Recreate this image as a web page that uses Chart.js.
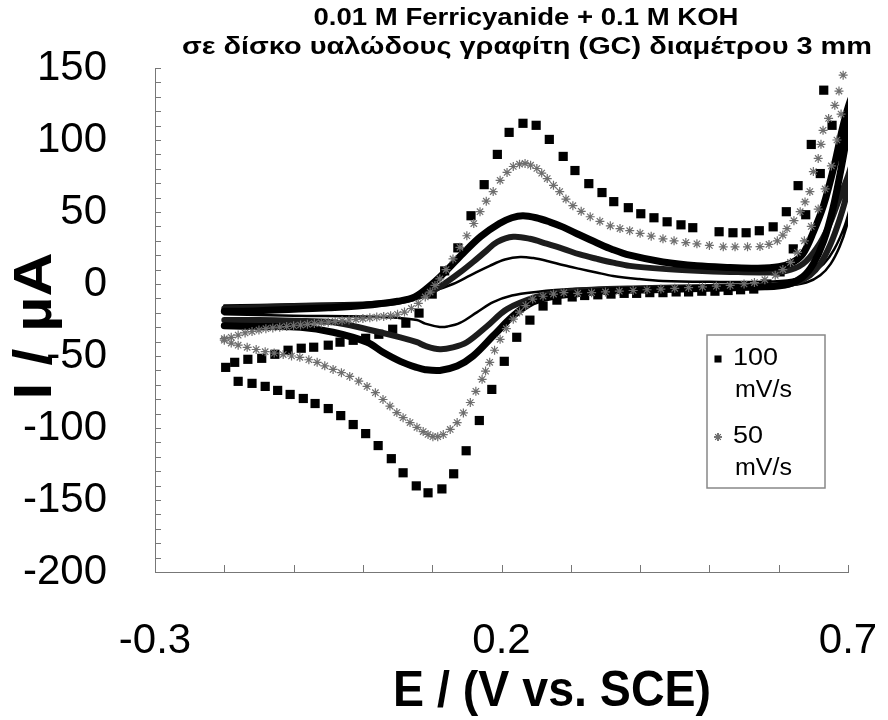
<!DOCTYPE html>
<html>
<head>
<meta charset="utf-8">
<script src="https://cdn.jsdelivr.net/npm/chart.js@4.4.1/dist/chart.umd.min.js"></script>
<style>
  html, body { margin: 0; padding: 0; background: #fff; }
  #wrap { position: relative; width: 888px; height: 720px; }
</style>
</head>
<body>
<div id="wrap"><canvas id="cv" width="888" height="720"></canvas></div>
<script>
const titleLines = ['0.01 M Ferricyanide + 0.1 M KOH', 'σε δίσκο υαλώδους γραφίτη (GC) διαμέτρου 3 mm'];
const xTitle = 'E / (V vs. SCE)';
const yTitle = 'I / µA';
const xLabelled = [-0.3, 0.2, 0.7];
const legendRows = [['100', 'mV/s'], ['50', 'mV/s']];

// 100 mV/s (squares): forward scan then return scan
const e100 = [-0.198, -0.185, -0.166, -0.146, -0.127, -0.108, -0.089, -0.071, -0.050, -0.033, -0.014, 0.004, 0.023, 0.043, 0.062, 0.081, 0.100, 0.118, 0.137, 0.156, 0.175, 0.194, 0.211, 0.231, 0.250, 0.269, 0.289, 0.306, 0.326, 0.345, 0.362, 0.383, 0.401, 0.420, 0.439, 0.459, 0.476, 0.514, 0.534, 0.553, 0.572, 0.592, 0.611, 0.628, 0.647, 0.665,
  0.677, 0.660, 0.639, 0.621, 0.602, 0.583, 0.564, 0.545, 0.527, 0.508, 0.489, 0.470, 0.452, 0.433, 0.414, 0.395, 0.377, 0.358, 0.339, 0.320, 0.302, 0.280, 0.260, 0.241, 0.222, 0.204, 0.186, 0.168, 0.149, 0.131, 0.114, 0.094, 0.077, 0.058, 0.041, 0.022, 0.004, -0.014, -0.032, -0.050, -0.069, -0.086, -0.105, -0.123, -0.141, -0.160, -0.180];
const i100 = [-57.9, -54.4, -52.3, -51.6, -48.8, -46.0, -44.6, -43.9, -42.5, -40.4, -39.1, -37.7, -34.9, -31.4, -27.2, -20.2, -7.0, 9.1, 25.1, 47.4, 69.0, 90.0, 105.3, 111.6, 110.2, 100.4, 88.6, 78.8, 69.7, 63.5, 57.2, 53.0, 48.8, 46.0, 43.2, 41.1, 39.1, 36.3, 35.6, 35.6, 37.0, 39.7, 50.2, 68.3, 96.9, 134.6,
  110.2, 76.7, 48.1, 24.4, 8.4, 0, -3.5, -4, -4.5, -5, -5, -5.5, -5.5, -6, -6, -6.5, -6.5, -7, -7.5, -8, -9, -11.2, -15.3, -25.1, -37.0, -53.7, -73.2, -94.8, -115.8, -131.8, -142.3, -145.0, -140.2, -131.1, -121.3, -112.2, -103.9, -97.6, -91.4, -86.5, -83.0, -79.5, -76.7, -73.9, -71.1, -69.0, -67.6];

// 50 mV/s (stars)
const e50 = [-0.200, -0.190, -0.180, -0.170, -0.160, -0.150, -0.140, -0.130, -0.120, -0.110, -0.100, -0.090, -0.080, -0.070, -0.060, -0.050, -0.040, -0.030, -0.020, -0.010, 0.000, 0.010, 0.020, 0.030, 0.040, 0.050, 0.060, 0.070, 0.080, 0.090, 0.097, 0.104, 0.111, 0.120, 0.130, 0.140, 0.150, 0.160, 0.169, 0.178, 0.188, 0.198, 0.208, 0.217, 0.226, 0.234, 0.242, 0.251, 0.258, 0.266, 0.275, 0.284, 0.293, 0.303, 0.315, 0.328, 0.342, 0.357, 0.371, 0.385, 0.400, 0.416, 0.433, 0.449, 0.466, 0.482, 0.500, 0.520, 0.537, 0.555, 0.573, 0.586, 0.598, 0.606, 0.612, 0.622, 0.631, 0.638, 0.645, 0.650, 0.657, 0.661, 0.664, 0.672, 0.681, 0.687, 0.693,
  0.690, 0.684, 0.676, 0.667, 0.657, 0.647, 0.637, 0.627, 0.617, 0.606, 0.595, 0.580, 0.565, 0.550, 0.530, 0.510, 0.490, 0.470, 0.450, 0.430, 0.410, 0.390, 0.370, 0.350, 0.330, 0.310, 0.290, 0.275, 0.260, 0.245, 0.235, 0.226, 0.217, 0.207, 0.198, 0.190, 0.183, 0.177, 0.172, 0.163, 0.155, 0.145, 0.136, 0.126, 0.116, 0.108, 0.101, 0.094, 0.087, 0.078, 0.068, 0.058, 0.049, 0.039, 0.029, 0.018, 0.006, -0.006, -0.019, -0.031, -0.043, -0.055, -0.066, -0.078, -0.091, -0.103, -0.115, -0.128, -0.141, -0.154, -0.167, -0.180, -0.190, -0.200];
const i50 = [-38, -37, -35.5, -34, -33, -32, -31, -30.5, -30, -29.5, -29, -28.5, -28, -27.5, -27, -26.5, -26, -25.5, -25, -24.5, -24, -23.5, -23, -22.5, -22, -21, -19.5, -17, -13.5, -9, -5.6, -1, 3.5, 10, 17.4, 25.5, 33.5, 42, 50.2, 57.5, 64.2, 72, 77.5, 81.6, 83.2, 83.7, 82.5, 80.2, 77, 73.2, 68.5, 64.2, 59, 54.4, 50.5, 46.7, 43.5, 40.4, 38.5, 37, 35.2, 33.2, 31.4, 30, 28.8, 27.9, 26.8, 25.8, 25.8, 25.8, 26, 27.5, 30, 34, 38.4, 44, 50.2, 57, 64.2, 78.1, 87.2, 97, 106.7, 115, 124.1, 134, 145,
  118, 100, 82, 66, 52, 40, 30, 22, 15, 10, 6, 3, 1, 0, -1, -1.5, -2, -2.5, -3, -3.5, -4, -4.5, -5, -5.5, -6, -6.5, -6, -7, -8.5, -10.5, -15, -19.5, -24.4, -31, -38.4, -46, -54.4, -60.5, -66.2, -74.5, -82.3, -89.5, -96.2, -101, -104.6, -106, -106, -104.5, -102.5, -99.5, -96.2, -92.8, -89.3, -84.8, -80.2, -75.5, -71.1, -67.5, -64.2, -61.6, -59.3, -56.8, -54.4, -52.6, -50.9, -50, -49, -48, -47, -45.5, -44, -42.5, -41, -39];

// 20 mV/s (thick line)
const e20 = [-0.200, -0.150, -0.100, -0.050, 0.000, 0.050, 0.075, 0.100, 0.120, 0.144, 0.170, 0.197, 0.215, 0.231, 0.250, 0.270, 0.289, 0.313, 0.338, 0.360, 0.385, 0.433, 0.482, 0.530, 0.570, 0.600, 0.620, 0.635, 0.650, 0.665, 0.680, 0.694, 0.705,
  0.700, 0.690, 0.678, 0.665, 0.650, 0.635, 0.615, 0.580, 0.500, 0.420, 0.350, 0.300, 0.270, 0.245, 0.217, 0.188, 0.159, 0.136, 0.111, 0.090, 0.078, 0.054, 0.029, 0.006, -0.043, -0.090, -0.150, -0.200];
const i20 = [-19, -18.5, -17.5, -16.5, -15, -12, -9, 0, 9, 21, 33, 42, 46, 47.4, 46, 43, 39.5, 34, 28.5, 24, 20, 15.3, 12.6, 11.5, 11, 12, 15, 21, 36, 55, 82, 112, 129,
  108, 80, 52, 30, 14, 5, 0, -2, -3, -4, -5, -7, -9, -12.6, -22, -36, -50, -57, -60, -59.5, -58, -53.7, -47.4, -40.4, -33.5, -30, -29.5, -29];

// 10 mV/s (medium line)
const e10 = [-0.200, -0.100, 0.000, 0.050, 0.080, 0.100, 0.120, 0.140, 0.159, 0.178, 0.194, 0.217, 0.241, 0.265, 0.289, 0.313, 0.338, 0.361, 0.385, 0.433, 0.482, 0.530, 0.580, 0.610, 0.635, 0.655, 0.672, 0.688, 0.700, 0.705,
  0.698, 0.688, 0.675, 0.660, 0.645, 0.625, 0.600, 0.500, 0.400, 0.330, 0.280, 0.250, 0.208, 0.179, 0.150, 0.130, 0.111, 0.090, 0.078, 0.054, 0.006, -0.043, -0.100, -0.150, -0.200];
const i10 = [-17, -15.5, -14.5, -12.5, -9, -5, 1, 8, 15.3, 23, 29.3, 32.8, 31.4, 28, 24.4, 20.5, 17.4, 14.8, 12.6, 10.5, 9.2, 8.4, 8, 9, 14, 25, 40, 60, 75, 82,
  62, 45, 28, 14, 6, 1, -1, -2, -3, -4, -6, -9, -17.4, -29.3, -40.4, -44, -45.3, -43, -40.4, -37, -31.4, -26.5, -25.5, -25, -25];

// 5 mV/s (thin line)
const e5 = [-0.200, -0.100, 0.000, 0.050, 0.100, 0.130, 0.155, 0.183, 0.205, 0.227, 0.246, 0.266, 0.290, 0.313, 0.337, 0.361, 0.397, 0.433, 0.500, 0.580, 0.620, 0.645, 0.665, 0.680, 0.695, 0.705,
  0.698, 0.688, 0.675, 0.660, 0.640, 0.610, 0.500, 0.400, 0.300, 0.250, 0.215, 0.188, 0.165, 0.140, 0.122, 0.111, 0.090, 0.078, 0.050, 0.000, -0.100, -0.200];
const i5 = [-15, -14, -13, -11, -5, 0, 6, 12.6, 17, 18.8, 18, 16, 13, 10.5, 8, 5.6, 3.5, 2.1, 1.5, 1.5, 3, 7, 14, 24, 40, 56,
  40, 26, 14, 6, 1, -1, -2, -2.5, -3.5, -5.5, -8, -12.6, -19.5, -27, -29.5, -29.8, -27.5, -25, -23.5, -22.5, -22, -21];

const pts = (xs, ys) => xs.map((x, k) => ({ x: x, y: ys[k] }));

function stretchText(ctx, text, x, y, font, targetW, align, angle) {
  ctx.save();
  ctx.font = font;
  const w = ctx.measureText(text).width;
  ctx.translate(x, y);
  if (angle) ctx.rotate(angle);
  ctx.scale(targetW / w, 1);
  ctx.textAlign = align || 'center';
  ctx.textBaseline = 'middle';
  ctx.fillStyle = '#000';
  ctx.fillText(text, 0, 0);
  ctx.restore();
}

const decor = {
  id: 'decor',
  afterDatasetsDraw(chart) {
    const ctx = chart.ctx;
    const xs = chart.scales.x, ys = chart.scales.y;
    const a = chart.chartArea;
    ctx.save();
    ctx.strokeStyle = '#777';
    ctx.lineWidth = 1;
    ctx.beginPath();
    for (let k = -3; k <= 7; k++) {
      const px = Math.round(xs.getPixelForValue(k / 10)) + 0.5;
      ctx.moveTo(px, a.bottom);
      ctx.lineTo(px, a.bottom - 7);
    }
    for (let v = -200; v <= 150; v += 10) {
      const py = Math.round(ys.getPixelForValue(v)) + 0.5;
      ctx.moveTo(a.left, py);
      ctx.lineTo(a.left + 6, py);
    }
    ctx.stroke();
    ctx.restore();
  },
  afterDraw(chart) {
    const ctx = chart.ctx;
    const bold = 'bold 24px "Liberation Sans", Arial, sans-serif';
    stretchText(ctx, titleLines[0], 526, 18, bold, 425);
    stretchText(ctx, titleLines[1], 527, 47, bold, 690);
    stretchText(ctx, xTitle, 552, 692, 'bold 50px "Liberation Sans", Arial, sans-serif', 318);
    stretchText(ctx, yTitle, 36, 326, 'bold 54px "Liberation Sans", Arial, sans-serif', 147, 'center', -Math.PI / 2);

    // legend box
    ctx.save();
    ctx.fillStyle = '#fff';
    ctx.strokeStyle = '#888';
    ctx.lineWidth = 1.5;
    ctx.fillRect(707, 335, 118, 153);
    ctx.strokeRect(707, 335, 118, 153);
    const sets = chart.data.datasets;
    const markerY = [359, 437];
    legendRows.forEach((row, k) => {
      const ds = sets[k];
      Chart.helpers.drawPoint(ctx, {
        pointStyle: ds.pointStyle,
        radius: k === 0 ? 5 : 4,
        borderWidth: ds.borderWidth,
        rotation: 0
      }, 718, markerY[k]);
      ctx.fillStyle = ds.backgroundColor;
      ctx.strokeStyle = ds.borderColor;
      ctx.lineWidth = ds.borderWidth || 1;
      if (k === 0) ctx.fill(); else ctx.stroke();
      const font = '23px "Liberation Sans", Arial, sans-serif';
      stretchText(ctx, row[0], 733, markerY[k], font, row[0].length * 15, 'left');
      stretchText(ctx, row[1], 735, markerY[k] + 32, font, 57, 'left');
    });
    ctx.restore();
  }
};

const tickFont = { family: '"Liberation Sans", Arial, sans-serif', size: 42 };

new Chart(document.getElementById('cv'), {
  type: 'scatter',
  data: {
    datasets: [
      { label: '100 mV/s', data: pts(e100, i100), pointStyle: 'rect', pointRadius: 6.5,
        backgroundColor: '#000', borderColor: '#000', borderWidth: 0, showLine: false, order: 3 },
      { label: '50 mV/s', data: pts(e50, i50), pointStyle: 'star', pointRadius: 4.5,
        backgroundColor: '#6e6e6e', borderColor: '#6e6e6e', borderWidth: 1.2, showLine: false, order: 0 },
      { label: '20 mV/s', data: pts(e20, i20), showLine: true, pointRadius: 0, borderColor: '#000',
        borderWidth: 7, tension: 0.35, borderJoinStyle: 'round', borderCapStyle: 'round', order: 1 },
      { label: '10 mV/s', data: pts(e10, i10), showLine: true, pointRadius: 0, borderColor: '#1c1c1c',
        borderWidth: 6, tension: 0.35, borderJoinStyle: 'round', borderCapStyle: 'round', order: 1 },
      { label: '5 mV/s', data: pts(e5, i5), showLine: true, pointRadius: 0, borderColor: '#000',
        borderWidth: 2.5, tension: 0.35, borderJoinStyle: 'round', borderCapStyle: 'round', order: 1 }
    ]
  },
  options: {
    responsive: false,
    animation: false,
    events: [],
    layout: { padding: { top: 68, right: 40, left: 0, bottom: 0 } },
    plugins: { legend: { display: false }, tooltip: { enabled: false }, title: { display: false } },
    scales: {
      x: {
        type: 'linear', min: -0.3, max: 0.7,
        grid: { display: false },
        border: { display: true, color: '#777', width: 1 },
        ticks: {
          stepSize: 0.1, autoSkip: false, maxRotation: 0, padding: 36, color: '#000',
          font: tickFont,
          callback: v => xLabelled.some(t => Math.abs(t - v) < 1e-6) ? String(Math.round(v * 10) / 10) : ''
        },
        afterFit: s => { s.height = 148; s.paddingLeft = 0; s.paddingRight = 0; }
      },
      y: {
        min: -200, max: 150,
        grid: { display: false },
        border: { display: true, color: '#777', width: 1 },
        ticks: { stepSize: 50, padding: 40, color: '#000', font: tickFont },
        afterFit: s => { s.width = 155; }
      }
    }
  },
  plugins: [decor]
});
</script>
</body>
</html>
